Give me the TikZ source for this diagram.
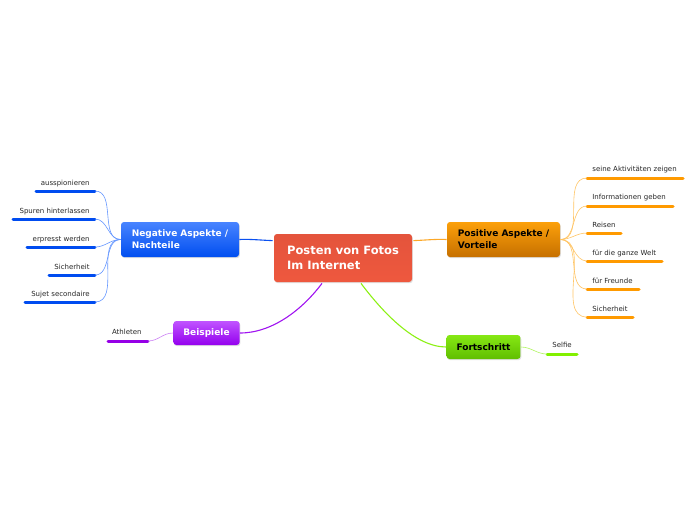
\documentclass[tikz,border=0pt]{standalone}
\usepackage{fontspec}
\setmainfont{DejaVu Sans}
\usetikzlibrary{calc,shadows}

\definecolor{cenTop}{RGB}{228,84,60}
\definecolor{cenBot}{RGB}{238,88,62}
\definecolor{negTop}{RGB}{72,132,255}
\definecolor{negBot}{RGB}{0,78,240}
\definecolor{posTop}{RGB}{252,160,10}
\definecolor{posBot}{RGB}{198,112,0}
\definecolor{bspTop}{RGB}{192,84,255}
\definecolor{bspBot}{RGB}{148,0,238}
\definecolor{fortTop}{RGB}{134,232,20}
\definecolor{fortBot}{RGB}{96,190,0}
\definecolor{negLine}{RGB}{10,80,240}
\definecolor{posLine}{RGB}{252,168,40}
\definecolor{bspLine}{RGB}{160,20,240}
\definecolor{fortLine}{RGB}{140,240,20}
\definecolor{negThin}{RGB}{100,150,255}
\definecolor{posThin}{RGB}{255,196,100}
\definecolor{bspThin}{RGB}{204,130,244}
\definecolor{fortThin}{RGB}{176,244,96}
\definecolor{negBar}{RGB}{0,76,240}
\definecolor{posBar}{RGB}{255,154,0}
\definecolor{bspBar}{RGB}{150,0,230}
\definecolor{fortBar}{RGB}{130,240,0}

\tikzset{every picture/.style={line width=0.75pt}}
\tikzset{
  topic/.style={rounded corners=3pt, inner xsep=10pt, inner ysep=0pt, align=left,
    font=\fontsize{9}{12}\selectfont\bfseries,
    drop shadow={opacity=0.25, shadow xshift=0.8pt, shadow yshift=-1.2pt}},
  leaf/.style={inner sep=0pt, font=\fontsize{7}{8}\selectfont, text=black!85},
  mainline/.style={line width=1.1pt},
  thinline/.style={line width=0.6pt},
  leafbar/.style={line width=3pt, line cap=round}
}

\begin{document}
\begin{tikzpicture}[x=1pt,y=1pt,yscale=-1]
\useasboundingbox (0,0) rectangle (696,520);

%Shape: Central topic
\draw (343,258) node [topic, top color=cenTop, bottom color=cenBot, text=white,
  minimum width=138, minimum height=48, font=\fontsize{11.5}{15}\selectfont\bfseries] (cen)
  {Posten von Fotos\\Im Internet};
%Shape: Negative
\draw (180,239.5) node [topic, top color=negTop, bottom color=negBot, text=white,
  minimum width=118, minimum height=35] (neg) {Negative Aspekte /\\Nachteile};
%Shape: Positive
\draw (503.5,239.5) node [topic, top color=posTop, bottom color=posBot, text=black,
  minimum width=113, minimum height=35] (pos) {Positive Aspekte /\\Vorteile};
%Shape: Beispiele
\draw (206.5,333) node [topic, top color=bspTop, bottom color=bspBot, text=white,
  minimum width=65, minimum height=24] (bsp) {Beispiele};
%Shape: Fortschritt
\draw (483.5,347) node [topic, top color=fortTop, bottom color=fortBot, text=black,
  minimum width=73, minimum height=24] (fort) {Fortschritt};

%Curve Lines: main branches
\draw [mainline, negLine] ($(cen.north west)+(-1,7)$) .. controls (258,240) and (250,239) .. (neg.east) ;
\draw [mainline, posLine] ($(cen.north east)+(1,7)$) .. controls (428,240) and (436,239) .. (pos.west) ;
\draw [mainline, bspLine] ($(cen.south)+(-21,1)$) .. controls (302,310) and (272,333) .. (bsp.east) ;
\draw [mainline, fortLine] ($(cen.south)+(18,1)$) .. controls (384,314) and (416,347) .. (fort.west) ;

%Leaves: Negative
\coordinate (n1) at (95,191);
\coordinate (n2) at (95,219);
\coordinate (n3) at (95,247);
\coordinate (n4) at (95,275);
\coordinate (n5) at (95,302);
\draw [leafbar, negBar] (n1) -- (36,191) ;
\draw [leafbar, negBar] (n2) -- (13,219) ;
\draw [leafbar, negBar] (n3) -- (27,247) ;
\draw [leafbar, negBar] (n4) -- (49,275) ;
\draw [leafbar, negBar] (n5) -- (25,302) ;
\foreach \n in {n1,n2,n3,n4,n5}
  \draw [thinline, negThin] (neg.west) to[out=180,in=0] (\n) ;
% Text Node
\draw (90,185) node [leaf, anchor=base east] (n1t) {ausspionieren};
% Text Node
\draw (90,213) node [leaf, anchor=base east] (n2t) {Spuren hinterlassen};
% Text Node
\draw (90,241) node [leaf, anchor=base east] (n3t) {erpresst werden};
% Text Node
\draw (90,269) node [leaf, anchor=base east] (n4t) {Sicherheit};
% Text Node
\draw (90,296) node [leaf, anchor=base east] (n5t) {Sujet secondaire};

%Leaves: Positive
\coordinate (p1) at (587,178);
\coordinate (p2) at (587,206);
\coordinate (p3) at (587,233);
\coordinate (p4) at (587,261);
\coordinate (p5) at (587,289);
\coordinate (p6) at (587,317);
\draw [leafbar, posBar] (p1) -- (683,178) ;
\draw [leafbar, posBar] (p2) -- (673,206) ;
\draw [leafbar, posBar] (p3) -- (621,233) ;
\draw [leafbar, posBar] (p4) -- (662,261) ;
\draw [leafbar, posBar] (p5) -- (639,289) ;
\draw [leafbar, posBar] (p6) -- (633,317) ;
\foreach \p in {p1,p2,p3,p4,p5,p6}
  \draw [thinline, posThin] (pos.east) to[out=0,in=180] (\p) ;
% Text Node
\draw (592,171.5) node [leaf, anchor=base west] (p1t) {seine Aktivitäten zeigen};
% Text Node
\draw (592,199.5) node [leaf, anchor=base west] (p2t) {Informationen geben};
% Text Node
\draw (592,227) node [leaf, anchor=base west] (p3t) {Reisen};
% Text Node
\draw (592,255) node [leaf, anchor=base west] (p4t) {für die ganze Welt};
% Text Node
\draw (592,283) node [leaf, anchor=base west] (p5t) {für Freunde};
% Text Node
\draw (592,311) node [leaf, anchor=base west] (p6t) {Sicherheit};

%Leaves: Beispiele and Fortschritt
\coordinate (b1) at (148,341);
\coordinate (f1) at (547,354);
\draw [leafbar, bspBar] (b1) -- (108,341) ;
\draw [leafbar, fortBar] (f1) -- (577,354) ;
\draw [thinline, bspThin] (bsp.west) to[out=180,in=0] (b1) ;
\draw [thinline, fortThin] (fort.east) to[out=0,in=180] (f1) ;
% Text Node
\draw (142,334.5) node [leaf, anchor=base east] (b1t) {Athleten};
% Text Node
\draw (552,347.5) node [leaf, anchor=base west] (f1t) {Selfie};

\end{tikzpicture}
\end{document}
